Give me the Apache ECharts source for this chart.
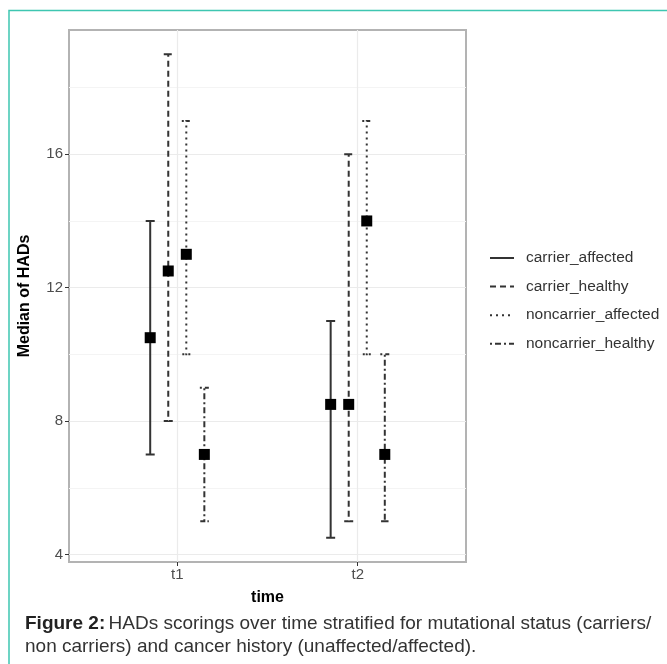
<!DOCTYPE html>
<html>
<head>
<meta charset="utf-8">
<script src="https://cdn.jsdelivr.net/npm/echarts@6/dist/echarts.min.js"></script>
<style>
  html, body { margin: 0; padding: 0; background: #fff; }
  #chart { width: 667px; height: 664px; }
</style>
</head>
<body>
<div id="chart"></div>
<script>
var times = ['t1', 't2'];
var groups = ['carrier_affected', 'carrier_healthy', 'noncarrier_affected', 'noncarrier_healthy'];
// one row per group, one value per time point
var medians = [[10.5, 8.5], [12.5, 8.5], [13, 14], [7, 7]];
var lowers = [[7, 4.5], [8, 5], [10, 10], [5, 5]];
var uppers = [[14, 11], [19, 16], [17, 17], [9, 10]];
var yTicks = [4, 8, 12, 16];
var yMinor = [6, 10, 14, 18];

var dodge = [-0.15, -0.05, 0.05, 0.15];
var dashes = ['solid', [6, 4], [2, 4], [2, 3, 6, 3]];
var font = 'Liberation Sans, Arial, sans-serif';

var chartDiv = document.getElementById('chart');
var chart = echarts.init(chartDiv);

function makeRender(dash) {
  return function (params, api) {
    var x = api.value(0);
    var lo = api.coord([x, api.value(1)]);
    var hi = api.coord([x, api.value(2)]);
    var half = 4.5;
    return {
      type: 'polyline',
      shape: {
        points: [
          [hi[0] - half, hi[1]], [hi[0] + half, hi[1]], [hi[0], hi[1]],
          [lo[0], lo[1]], [lo[0] - half, lo[1]], [lo[0] + half, lo[1]]
        ]
      },
      style: {
        stroke: '#333',
        lineWidth: 2,
        fill: null,
        lineDash: dash === 'solid' ? null : dash
      }
    };
  };
}

var series = [];
for (let g = 0; g < groups.length; g++) {
  var bars = [];
  var pts = [];
  for (let t = 0; t < times.length; t++) {
    var x = t + 1 + dodge[g];
    bars.push([x, lowers[g][t], uppers[g][t]]);
    pts.push([x, medians[g][t]]);
  }
  // empty line series, only for the legend key
  series.push({
    name: groups[g],
    type: 'line',
    data: [],
    symbol: 'none',
    lineStyle: { color: '#333', width: 2, type: dashes[g] },
    itemStyle: { color: '#333' }
  });
  series.push({
    name: groups[g],
    type: 'custom',
    renderItem: makeRender(dashes[g]),
    encode: { x: 0, y: [1, 2] },
    data: bars,
    z: 3
  });
  series.push({
    name: groups[g],
    type: 'scatter',
    symbol: 'rect',
    symbolSize: 11,
    itemStyle: { color: '#000', opacity: 1 },
    data: pts,
    z: 5
  });
}

option = {
  animation: false,
  textStyle: { fontFamily: font },
  grid: {
    left: 69, right: 201, top: 30, bottom: 102,
    show: true, borderColor: '#b3b3b3', borderWidth: 2
  },
  legend: {
    data: groups,
    orient: 'vertical',
    left: 489,
    top: 250,
    padding: 0,
    itemWidth: 24,
    itemHeight: 14,
    itemGap: 12.6,
    itemStyle: { opacity: 0 },
    textStyle: { fontSize: 15.5, color: '#333', fontFamily: font, padding: [0, 0, 0, 7] }
  },
  xAxis: {
    type: 'value',
    min: 0.4,
    max: 2.6,
    name: 'time',
    nameLocation: 'middle',
    nameGap: 28,
    nameTextStyle: { fontSize: 16, fontWeight: 'bold', color: '#000', fontFamily: font },
    axisLine: { show: false },
    axisTick: { show: true, length: 4, customValues: [1, 2], lineStyle: { color: '#333' } },
    axisLabel: {
      customValues: [1, 2],
      margin: 5,
      fontSize: 15,
      color: '#4d4d4d',
      formatter: function (v) { return times[Math.round(v) - 1]; }
    },
    splitLine: { show: true, lineStyle: { color: '#ebebeb', width: 1.2 } }
  },
  yAxis: [
    {
      type: 'value',
      min: 3.775,
      max: 19.725,
      name: 'Median of HADs',
      nameLocation: 'middle',
      nameGap: 36,
      nameTextStyle: { fontSize: 16, fontWeight: 'bold', color: '#000', fontFamily: font },
      axisLine: { show: false },
      axisTick: { show: true, length: 4, customValues: yTicks, lineStyle: { color: '#333' } },
      axisLabel: { customValues: yTicks, margin: 6, fontSize: 15, color: '#4d4d4d' },
      splitLine: { show: true, lineStyle: { color: '#ebebeb', width: 1.2 } }
    },
    {
      type: 'value',
      min: 3.775,
      max: 19.725,
      axisLine: { show: false },
      axisTick: { show: false, customValues: yMinor },
      axisLabel: { show: false, customValues: yMinor },
      splitLine: { show: true, lineStyle: { color: '#f4f4f4', width: 1 } }
    }
  ],
  graphic: [
    {
      type: 'rect',
      shape: { x: 9, y: 10.5, width: 700, height: 700 },
      style: { fill: null, stroke: '#3ec6b1', lineWidth: 1.5 },
      silent: true
    },
    {
      type: 'text',
      left: 25,
      top: 614,
      style: {
        text: '{b|Figure 2:} {n|HADs scorings over time stratified for mutational status (carriers/}\n{n|non carriers) and cancer history (unaffected/affected).}',
        rich: {
          b: { fontSize: 19, fontWeight: 'bold', fill: '#222', fontFamily: font, lineHeight: 23 },
          n: { fontSize: 19, fill: '#333', fontFamily: font, lineHeight: 23 }
        }
      }
    }
  ],
  series: series
};

option && chart.setOption(option);
</script>
</body>
</html>
